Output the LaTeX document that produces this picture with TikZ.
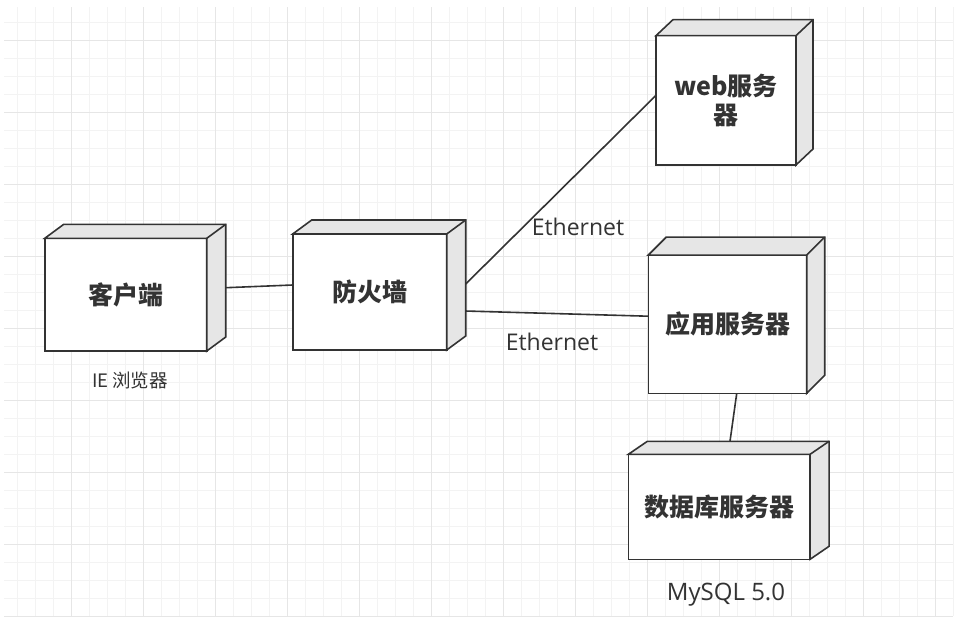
\documentclass[tikz,border=0pt]{standalone}
\usepackage{fontspec}
\setmainfont{Noto Sans CJK SC}
\newfontfamily\latfont{Open Sans}
\usetikzlibrary{calc}
\definecolor{edgecol}{HTML}{333333}
\definecolor{sidecol}{HTML}{E6E6E6}
\definecolor{gridminor}{HTML}{F3F3F3}
\definecolor{gridmajor}{HTML}{E6E6E6}
\definecolor{txtcol}{HTML}{333333}
\tikzset{
  front/.style={draw=edgecol, fill=white, line width=1.6pt, inner sep=0pt, outer sep=0pt,
    text=txtcol, font=\bfseries\fontsize{25}{29.5}\selectfont, align=center},
  sideface/.style={fill=sidecol, draw=edgecol, line width=1.6pt, line join=miter},
  wire/.style={draw=edgecol, line width=1.6pt},
  lbl/.style={text=txtcol, inner sep=0pt},
  gminor/.style={draw=gridminor, line width=1pt},
  gmajor/.style={draw=gridmajor, line width=1pt},
}
% depth faces for a device node: name, dx, dy
\newcommand\devsides[3]{%
  \path[sideface] (#1.north west) -- ++(#2,-#3) -- ($(#1.north east)+(#2,-#3)$)
    -- ($(#1.south east)+(#2,-#3)$) -- (#1.south east) -- (#1.north east) -- cycle;
  \draw[edgecol, line width=1.6pt] (#1.north east) -- ++(#2,-#3);
}
\begin{document}
\begin{tikzpicture}[x=1pt,y=-1pt]
\useasboundingbox (0,0) rectangle (957,622);
\fill[white] (0,0) rectangle (957,622);
% grid
\foreach \i in {0,...,52} \draw[gminor] ({17.3+18*\i},7) -- ({17.3+18*\i},616);
\foreach \j in {0,...,33} \draw[gminor] (4,{22+18*\j}) -- (953,{22+18*\j});
\foreach \i in {0,...,12} \draw[gmajor] ({71.3+72*\i},7) -- ({71.3+72*\i},616);
\foreach \j in {0,...,8} \draw[gmajor] (4,{40+72*\j}) -- (953,{40+72*\j});

% devices
\node[front, minimum width=162, minimum height=112.7] (client) at (125.7,294.7) {客户端};
\devsides{client}{19}{14}
\node[front, minimum width=154, minimum height=116] (firewall) at (369.7,292) {防火墙};
\devsides{firewall}{19}{14}
\node[front, minimum width=140, minimum height=129.3] (web) at (726,100.3) {web服务\\器};
\devsides{web}{17}{16}
\node[front, minimum width=158.4, minimum height=138.3] (app) at (727.5,324.2) {应用服务器};
\devsides{app}{18}{18}
\node[front, minimum width=181.7, minimum height=105] (db) at (719.2,506.8) {数据库服务器};
\devsides{db}{19}{13}

% connectors
\draw[wire] ($(client.east)+(19,-7)$) -- ($(firewall.west)+(0,-7)$);
\draw[wire] ($(firewall.east)+(19,-8)$) -- ($(web.west)+(0,-5)$);
\draw[wire] ($(firewall.east)+(18.5,19)$) -- ($(app.west)+(0,-8)$);
\draw[wire] ($(app.south)+(9.2,0)$) -- ($(db.north)+(10.8,-13)$);

% labels
\node[lbl, anchor=base, font=\latfont\fontsize{23}{27}\selectfont] (eth1) at (578,235) {Ethernet};
\node[lbl, anchor=base, font=\latfont\fontsize{23}{27}\selectfont] (eth2) at (552,350) {Ethernet};
\node[lbl, font=\fontsize{18.5}{22}\selectfont] (ielbl) at (130,380) {IE 浏览器};
\node[lbl, anchor=base, font=\latfont\fontsize{24}{28}\selectfont] (mysql) at (726,600) {MySQL 5.0};
\end{tikzpicture}
\end{document}
